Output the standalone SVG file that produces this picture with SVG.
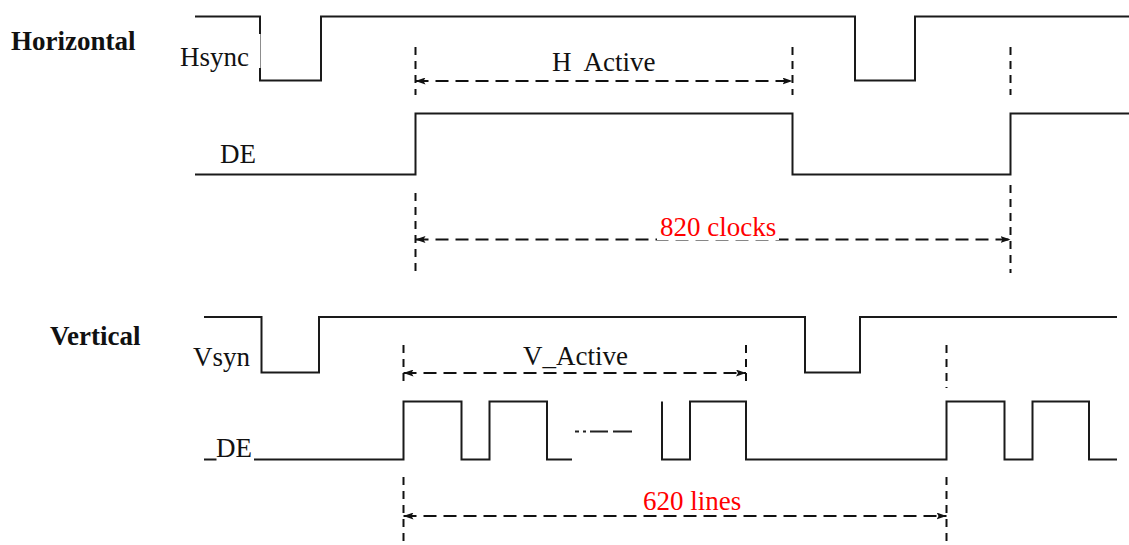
<svg xmlns="http://www.w3.org/2000/svg" width="1129" height="545" viewBox="0 0 1129 545">
  <defs>
    <style>
      .sig { fill: none; stroke: #1a1a1a; stroke-width: 2; }
      .dim { fill: none; stroke: #111; stroke-width: 2; stroke-dasharray: 13 7; }
      .vd { fill: none; stroke: #111; stroke-width: 2; stroke-dasharray: 8 6; }
      text { font-family: 'Liberation Serif', 'Times New Roman', 'DejaVu Serif', serif; font-size: 27px; fill: #111; white-space: pre; }
      .b { font-weight: bold; }
      .red { fill: #ff0000; }
      .mask { fill: #ffffff; stroke: none; }
    </style>
    <marker id="arr" viewBox="0 0 10 7" refX="10" refY="3.5" markerWidth="10" markerHeight="7" markerUnits="userSpaceOnUse" orient="auto-start-reverse">
      <path d="M0,0 L10,3.5 L0,7 L2,3.5 z" fill="#111"/>
    </marker>
  </defs>
  <rect width="1129" height="545" fill="#ffffff"/>

  <!-- Horizontal timing -->
  <g id="horizontal-title">
    <text class="b" x="11" y="50" font-family="Liberation Serif, serif">Horizontal</text>
  </g>
  <g id="hsync">
    <path class="sig" d="M195,16.5 H260 V80.5 H321 V16.5 H855 V80.5 H915 V16.5 H1129"/>
    <rect class="mask" x="176" y="34" width="84.5" height="34"/>
    <text x="180" y="66" font-family="Liberation Serif, serif">Hsync</text>
  </g>
  <g id="de-horizontal">
    <path class="sig" d="M195,174.5 H415.5 V113.5 H792.5 V174.5 H1010.5 V113.5 H1129"/>
    <text x="220" y="163" font-family="Liberation Serif, serif">DE</text>
  </g>

  <!-- Vertical timing -->
  <g id="vertical-title">
    <text class="b" x="50" y="345" font-family="Liberation Serif, serif">Vertical</text>
  </g>
  <g id="vsyn">
    <path class="sig" d="M204,317 H261.5 V372.5 H319 V317 H805 V372.5 H860 V317 H1117"/>
    <text x="193" y="366" font-family="Liberation Serif, serif">Vsyn</text>
  </g>
  <g id="de-vertical">
    <path class="sig" d="M204,459.5 H403.5 V401.5 H461.5 V459.5 H489.5 V401.5 H547 V459.5 H572"/>
    <path class="sig" d="M662,401.5 V459.5 H690 V401.5 H746 V459.5 H946.5 V401.5 H1004.5 V459.5 H1032.5 V401.5 H1089 V459.5 H1117"/>
    <path d="M575,431.5 H632" fill="none" stroke="#222" stroke-width="2" stroke-dasharray="4 4 3 4 18 5 19"/>
    <rect class="mask" x="216.5" y="434" width="37.5" height="28"/>
    <text x="216" y="456.5" font-family="Liberation Serif, serif">DE</text>
  </g>

  <!-- Connectors: reference lines and dimension arrows -->
  <g id="connectors">
    <path class="vd" d="M415.5,47 V95 M415.5,193 V272"/>
    <path class="vd" d="M792.5,47 V95"/>
    <path class="vd" d="M1010.5,47 V95 M1010.5,185 V273"/>
    <path class="dim" d="M415.5,81 H792.5" marker-start="url(#arr)" marker-end="url(#arr)"/>
    <path class="dim" d="M415.5,239.5 H1010.5" marker-start="url(#arr)" marker-end="url(#arr)"/>

    <path class="vd" d="M403.5,345 V384 M403.5,477 V545"/>
    <path class="vd" d="M746,345 V384"/>
    <path class="vd" d="M946.5,345 V388 M946.5,477 V545"/>
    <path class="dim" d="M403.5,373 H746" marker-start="url(#arr)" marker-end="url(#arr)"/>
    <path class="dim" d="M403.5,516 H946.5" marker-start="url(#arr)" marker-end="url(#arr)"/>
  </g>

  <g id="labels">
    <text x="552" y="71" font-family="Liberation Serif, serif">H  Active</text>
    <rect class="mask" x="657" y="213" width="122" height="27"/>
    <text class="red" x="660" y="236" font-family="Liberation Serif, serif">820 clocks</text>
    <text x="523" y="365" font-family="Liberation Serif, serif">V_Active</text>
    <rect class="mask" x="621" y="488" width="129" height="27"/>
    <text class="red" x="643" y="510" font-family="Liberation Serif, serif">620 lines</text>
  </g>
</svg>
